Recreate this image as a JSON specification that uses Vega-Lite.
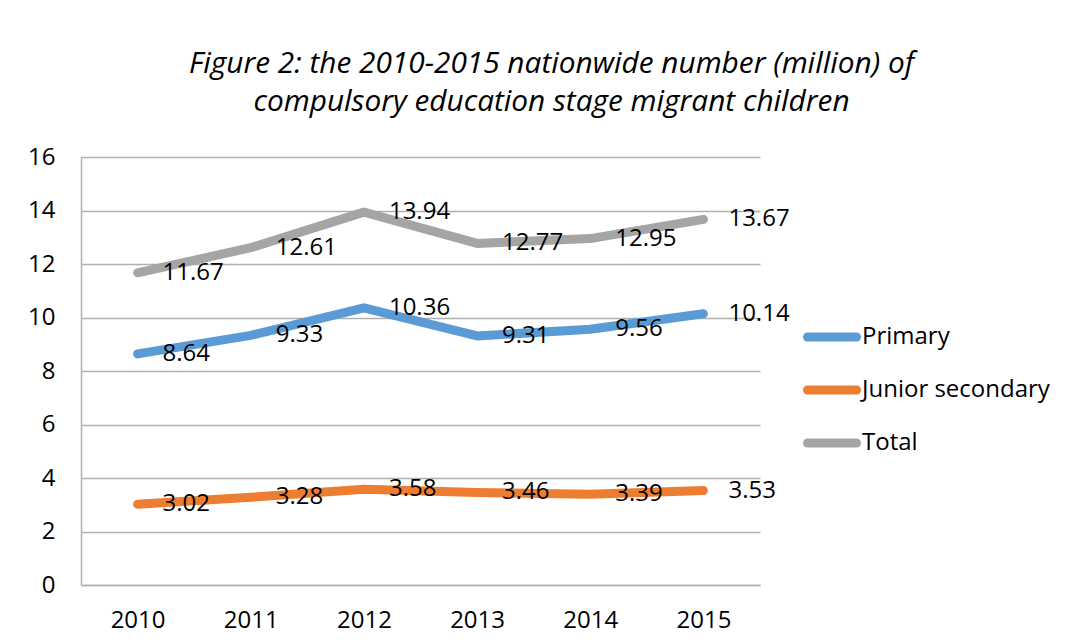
{
  "$schema": "https://vega.github.io/schema/vega-lite/v6.json",
  "width": 679,
  "height": 428,
  "padding": {"left": 27, "top": 49, "right": 5, "bottom": 5},
  "background": "white",
  "title": {
    "text": ["Figure 2: the 2010-2015 nationwide number (million) of", "compulsory education stage migrant children"],
    "font": "Open Sans",
    "fontSize": 29.8,
    "fontStyle": "italic",
    "fontWeight": "normal",
    "color": "#000000",
    "lineHeight": 38,
    "anchor": "middle",
    "offset": 28,
    "dx": 131
  },
  "data": {
    "values": [
      {"year": "2010", "series": "Primary", "value": 8.64},
      {"year": "2011", "series": "Primary", "value": 9.33},
      {"year": "2012", "series": "Primary", "value": 10.36},
      {"year": "2013", "series": "Primary", "value": 9.31},
      {"year": "2014", "series": "Primary", "value": 9.56},
      {"year": "2015", "series": "Primary", "value": 10.14},
      {"year": "2010", "series": "Junior secondary", "value": 3.02},
      {"year": "2011", "series": "Junior secondary", "value": 3.28},
      {"year": "2012", "series": "Junior secondary", "value": 3.58},
      {"year": "2013", "series": "Junior secondary", "value": 3.46},
      {"year": "2014", "series": "Junior secondary", "value": 3.39},
      {"year": "2015", "series": "Junior secondary", "value": 3.53},
      {"year": "2010", "series": "Total", "value": 11.67},
      {"year": "2011", "series": "Total", "value": 12.61},
      {"year": "2012", "series": "Total", "value": 13.94},
      {"year": "2013", "series": "Total", "value": 12.77},
      {"year": "2014", "series": "Total", "value": 12.95},
      {"year": "2015", "series": "Total", "value": 13.67}
    ]
  },
  "encoding": {
    "x": {
      "field": "year",
      "type": "ordinal",
      "scale": {"type": "point", "padding": 0.5},
      "axis": {
        "title": null,
        "labelAngle": 0,
        "labelFont": "Open Sans",
        "labelFontSize": 24,
        "labelColor": "#000000",
        "labelPadding": 23,
        "ticks": false,
        "grid": false,
        "domainColor": "#b0b0b0",
        "domainWidth": 1.5
      }
    },
    "y": {
      "field": "value",
      "type": "quantitative",
      "scale": {"domain": [0, 16], "nice": false},
      "axis": {
        "title": null,
        "values": [0, 2, 4, 6, 8, 10, 12, 14, 16],
        "labelFont": "Open Sans",
        "labelFontSize": 24,
        "labelColor": "#000000",
        "labelPadding": 26,
        "ticks": false,
        "grid": true,
        "gridColor": "#b0b0b0",
        "gridWidth": 1.5,
        "domainColor": "#b0b0b0",
        "domainWidth": 1.5
      }
    },
    "color": {
      "field": "series",
      "type": "nominal",
      "scale": {
        "domain": ["Primary", "Junior secondary", "Total"],
        "range": ["#5B9BD5", "#ED7D31", "#A5A5A5"]
      },
      "legend": {
        "title": null,
        "orient": "none",
        "legendX": 722,
        "legendY": 151,
        "symbolType": "stroke",
        "symbolSize": 2401,
        "symbolStrokeWidth": 9,
        "labelFont": "Open Sans",
        "labelFontSize": 24,
        "labelColor": "#000000",
        "labelOffset": 1,
        "labelLimit": 400,
        "rowPadding": 6,
        "encode": {"symbols": {"update": {"strokeCap": {"value": "round"}}}}
      }
    }
  },
  "layer": [
    {
      "mark": {"type": "line", "strokeWidth": 9, "strokeCap": "round", "strokeJoin": "round", "interpolate": "linear"}
    },
    {
      "mark": {"type": "text", "align": "left", "baseline": "middle", "dx": 25, "font": "Open Sans", "fontSize": 24, "color": "#000000"},
      "encoding": {
        "text": {"field": "value", "type": "quantitative", "format": ".2f"},
        "color": {"value": "#000000"}
      }
    }
  ],
  "config": {
    "view": {"stroke": null}
  }
}
